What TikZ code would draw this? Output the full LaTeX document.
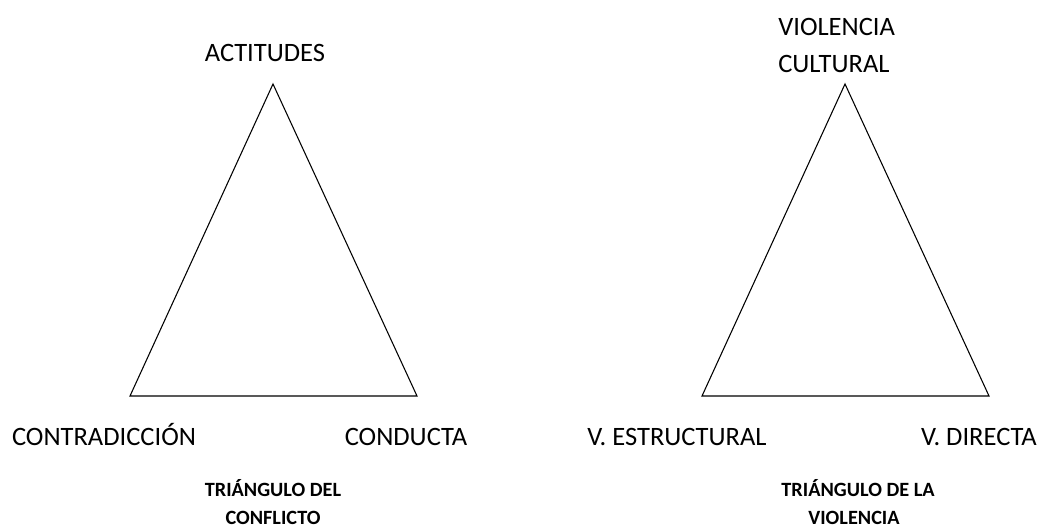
\documentclass[tikz,border=0pt]{standalone}
\usepackage{fontspec}
\setmainfont{Carlito}
\usetikzlibrary{positioning}

\begin{document}
\begin{tikzpicture}[x=0.75pt, y=-0.75pt]
	\tikzstyle{vertex}
	  =[font=\fontsize{19.9}{24}\selectfont, inner sep=0, anchor=base]
	\tikzstyle{caption}
	  =[font=\fontsize{15.2}{20}\selectfont\bfseries, inner sep=0, anchor=base]

	\useasboundingbox (0,0) rectangle (1042,530);

	% triangulo del conflicto
	\coordinate (apexc) at (273,84);
	\coordinate (leftc) at (130,396);
	\coordinate (rightc) at (417,396);
	\draw[line width=0.8pt, line join=miter] (apexc)--(leftc)--(rightc)--cycle;

	\node[vertex] (actitudes) at (265,62) {ACTITUDES};
	\node[vertex] (contradiccion) at (104,446) {CONTRADICCIÓN};
	\node[vertex] (conducta) at (406,446) {CONDUCTA};
	\node[caption] (captc1) at (273,497) {TRIÁNGULO DEL};
	\node[caption] (captc2) at (273,524) {CONFLICTO};

	% triangulo de la violencia
	\coordinate (apexv) at (845,84);
	\coordinate (leftv) at (702,396);
	\coordinate (rightv) at (989,396);
	\draw[line width=0.8pt, line join=miter] (apexv)--(leftv)--(rightv)--cycle;

	\node[vertex, anchor=base west] (violencia) at (778,36) {VIOLENCIA};
	\node[vertex, anchor=base west] (cultural) at (778,73) {CULTURAL};
	\node[vertex] (estructural) at (677,446) {V. ESTRUCTURAL};
	\node[vertex] (directa) at (979,446) {V. DIRECTA};
	\node[caption] (captv1) at (858,497) {TRIÁNGULO DE LA};
	\node[caption] (captv2) at (854,524) {VIOLENCIA};
\end{tikzpicture}
\end{document}
